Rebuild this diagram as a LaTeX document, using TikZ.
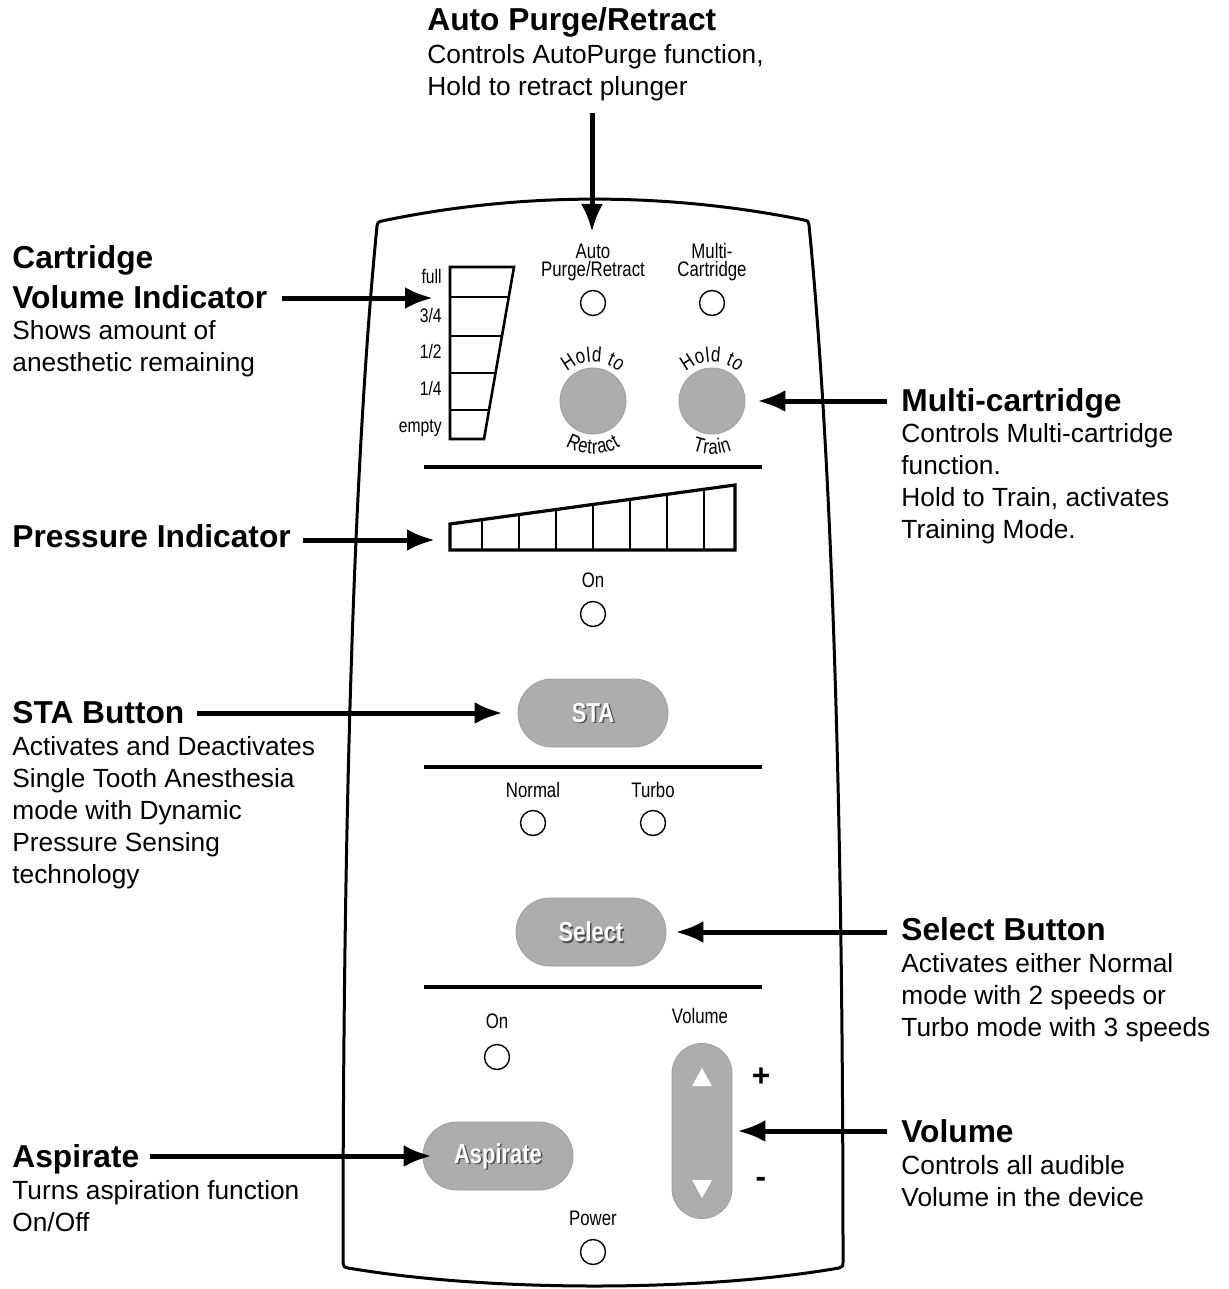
\documentclass[tikz,border=0pt]{standalone}
\usepackage{fontspec}
\setmainfont{Liberation Sans}
\newfontfamily\narrowf[FakeStretch=0.8]{Liberation Sans}
\usetikzlibrary{arrows.meta,shapes.misc,decorations.text}
\newcommand{\kk}{{\kern0.3pt}}
\begin{document}
\begin{tikzpicture}[x=0.5pt,y=-0.5pt,
  head/.style={font=\fontsize{15.85}{19}\selectfont\bfseries, inner sep=0, anchor=base west},
  desc/.style={font=\fontsize{13.15}{16}\selectfont, inner sep=0, anchor=base west},
  lbl/.style={font=\narrowf\fontsize{10.5}{12.5}\selectfont, inner sep=0, anchor=base},
  clbl/.style={font=\narrowf\fontsize{9.8}{12}\selectfont, inner sep=0, anchor=base east},
  led/.style={circle, draw, line width=0.7pt, minimum size=12.5pt, inner sep=0},
  knob/.style={circle, fill=black!32, draw=black!38, line width=0.4pt, minimum size=33pt, inner sep=0},
  pill/.style={rounded rectangle, fill=black!32, draw=black!38, line width=0.4pt, minimum width=75pt, minimum height=34pt, inner sep=0},
  btxt/.style={font=\narrowf\bfseries\fontsize{13.7}{16}\selectfont, text=white, inner sep=0},
  bsh/.style={font=\narrowf\bfseries\fontsize{13.7}{16}\selectfont, text=black!70, inner sep=0},
  arr/.style={line width=2.5pt, -{Latex[length=14pt,width=11pt]}},
  divider/.style={line width=2pt},
  panel/.style={line width=1.5pt, line join=round},
]
\useasboundingbox (0,0) rectangle (1228,1289);
\fill[white] (0,0) rectangle (1228,1289);

% ---------- panel outline ----------
\draw[panel] (377,226) .. controls (378,222) .. (382,221)
  .. controls (520,192) and (665,192) .. (804,220)
  .. controls (808,221) .. (809,225)
  .. controls (836,500) and (843,900) .. (843,1262)
  .. controls (843,1266) .. (839,1268)
  .. controls (700,1292) and (490,1292) .. (348,1268)
  .. controls (344,1267) .. (343,1263)
  .. controls (343,900) and (350,500) .. (377,226) -- cycle;

% ---------- top labels and LEDs ----------
\node[lbl] (lAuto1) at (593,258) {Auto};
\node[lbl] (lAuto2) at (593,277) {Purge/Retract};
\node[lbl] (lMulti1) at (712,258) {Multi-};
\node[lbl] (lMulti2) at (712,277) {Cartridge};
\node[led] (ledAuto) at (593,303) {};
\node[led] (ledMulti) at (712,303) {};

% ---------- cartridge volume indicator ----------
\draw[line width=1.3pt, line join=miter] (450,267) -- (514,267) -- (484,439) -- (450,439) -- cycle;
\foreach \y in {297,336,373,410}
  \draw[line width=0.9pt] (450,\y) -- ({514-30*(\y-267)/172},\y);
\node[clbl] (cFull) at (442,284) {full};
\node[clbl] (c34) at (442,322) {3/4};
\node[clbl] (c12) at (442,358) {1/2};
\node[clbl] (c14) at (442,395) {1/4};
\node[clbl] (cEmpty) at (442,432) {empty};
\coordinate (cartL) at (450,298);

% ---------- hold buttons ----------
\node[knob] (knobR) at (593,401) {};
\node[knob] (knobT) at (712,401) {};
\path[decoration={text along path, text={|\narrowf\fontsize{10.5}{12}\selectfont|H\kk o\kk l\kk d\kk\ \kk t\kk o}, text align=center}, decorate]
  (593,401) ++(-155:39) arc (-155:-25:39);
\path[decoration={text along path, text={|\narrowf\fontsize{10.5}{12}\selectfont|R\kk e\kk t\kk r\kk a\kk c\kk t}, text align=center}, decorate]
  (593,401) ++(150:53) arc (150:30:53);
\path[decoration={text along path, text={|\narrowf\fontsize{10.5}{12}\selectfont|H\kk o\kk l\kk d\kk\ \kk t\kk o}, text align=center}, decorate]
  (712,401) ++(-155:39) arc (-155:-25:39);
\path[decoration={text along path, text={|\narrowf\fontsize{10.5}{12}\selectfont|T\kk r\kk a\kk i\kk n}, text align=center}, decorate]
  (712,401) ++(150:53) arc (150:30:53);

\draw[divider] (424,467) -- (762,467);

% ---------- pressure indicator ----------
\draw[line width=1.6pt, line join=miter] (450,524) -- (735,485) -- (735,550) -- (450,550) -- cycle;
\foreach \x in {482,519,556,593,630,667,704}
  \draw[line width=0.9pt] (\x,550) -- (\x,{524-39*(\x-450)/285});
\coordinate (pressL) at (450,540);
\node[lbl] (lOn1) at (593,587) {On};
\node[led] (ledOn1) at (593,614) {};

% ---------- STA ----------
\node[pill] (sta) at (593,713) {};
\node[bsh] (staS) at (594.5,714.5) {STA};
\node[btxt] (staT) at (593,713) {STA};
\draw[divider] (424,767) -- (762,767);
\node[lbl] (lNormal) at (533,797) {Normal};
\node[lbl] (lTurbo) at (653,797) {Turbo};
\node[led] (ledNormal) at (533,823) {};
\node[led] (ledTurbo) at (653,823) {};

% ---------- Select ----------
\node[pill] (sel) at (591,932) {};
\node[bsh] (selS) at (592.5,933.5) {Select};
\node[btxt] (selT) at (591,932) {Select};
\draw[divider] (424,987) -- (762,987);

% ---------- bottom ----------
\node[lbl] (lOn2) at (497,1028) {On};
\node[led] (ledOn2) at (497,1057) {};
\node[lbl] (lVolume) at (700,1023) {Volume};
\node[rectangle, rounded corners=14.9pt, fill=black!32, draw=black!38, line width=0.4pt,
      minimum width=30pt, minimum height=87.5pt, inner sep=0] (rocker) at (702,1131) {};
\fill[white] (702,1068) -- (712,1086) -- (692,1086) -- cycle;
\fill[white] (692,1180) -- (712,1180) -- (702,1198) -- cycle;
\node[font=\fontsize{15.85}{19}\selectfont\bfseries, inner sep=0] (plus) at (761,1077) {+};
\node[font=\fontsize{15.85}{19}\selectfont\bfseries, inner sep=0] (minus) at (761,1182) {-};
\node[pill] (asp) at (498,1156) {};
\node[bsh] (aspS) at (499.5,1157.5) {Aspirate};
\node[btxt] (aspT) at (498,1156) {Aspirate};
\node[lbl] (lPower) at (593,1225) {Power};
\node[led] (ledPower) at (593,1252) {};

% ---------- callout texts ----------
\node[head] (hAuto) at (427,31) {Auto Purge/Retract};
\foreach \t [count=\i] in {{Controls AutoPurge function,},{Hold to retract plunger}}
  \node[desc] (dAuto\i) at (427,{64+32*(\i-1)}) {\t};

\node[head] (hCart1) at (12,268) {Cartridge};
\node[head] (hCart2) at (12,308) {Volume Indicator};
\foreach \t [count=\i] in {{Shows amount of},{anesthetic remaining}}
  \node[desc] (dCart\i) at (12,{339+32*(\i-1)}) {\t};

\node[head] (hMulti) at (901,411) {Multi-cartridge};
\foreach \t [count=\i] in {{Controls Multi-cartridge},{function.},{Hold to Train, activates},{Training Mode.}}
  \node[desc] (dMulti\i) at (901,{442+32*(\i-1)}) {\t};

\node[head] (hPress) at (12,547) {Pressure Indicator};

\node[head] (hSTA) at (12,723) {STA Button};
\foreach \t [count=\i] in {{Activates and Deactivates},{Single Tooth Anesthesia},{mode with Dynamic},{Pressure Sensing},{technology}}
  \node[desc] (dSTA\i) at (12,{755+32*(\i-1)}) {\t};

\node[head] (hSel) at (901,940) {Select Button};
\foreach \t [count=\i] in {{Activates either Normal},{mode with 2 speeds or},{Turbo mode with 3 speeds}}
  \node[desc] (dSel\i) at (901,{972+32*(\i-1)}) {\t};

\node[head] (hVol) at (901,1142) {Volume};
\foreach \t [count=\i] in {{Controls all audible},{Volume in the device}}
  \node[desc] (dVol\i) at (901,{1174+32*(\i-1)}) {\t};

\node[head] (hAsp) at (12,1167) {Aspirate};
\foreach \t [count=\i] in {{Turns aspiration function},{On/Off}}
  \node[desc] (dAsp\i) at (12,{1199+32*(\i-1)}) {\t};

% ---------- arrows ----------
\coordinate (aAutoS) at (592,113);
\coordinate (aAutoE) at (592,232);
\draw[arr] (aAutoS) -- (aAutoE);
\coordinate (aCartS) at (282,298);
\draw[arr, shorten >=8.5pt] (aCartS) -- (cartL);
\coordinate (aMultiS) at (887,401);
\draw[arr, shorten >=6pt] (aMultiS) -- (knobT.east);
\coordinate (aPressS) at (303,540);
\draw[arr, shorten >=7.5pt] (aPressS) -- (pressL);
\coordinate (aSTAS) at (197,713);
\draw[arr, shorten >=7.5pt] (aSTAS) -- (sta.west);
\coordinate (aSelS) at (887,932);
\draw[arr, shorten >=4.5pt] (aSelS) -- (sel.east);
\coordinate (aVolS) at (887,1131);
\draw[arr, shorten >=2.5pt] (aVolS) -- (rocker.east);
\coordinate (aAspS) at (150,1156);
\draw[arr, shorten >=-4.5pt] (aAspS) -- (asp.west);
\end{tikzpicture}
\end{document}
